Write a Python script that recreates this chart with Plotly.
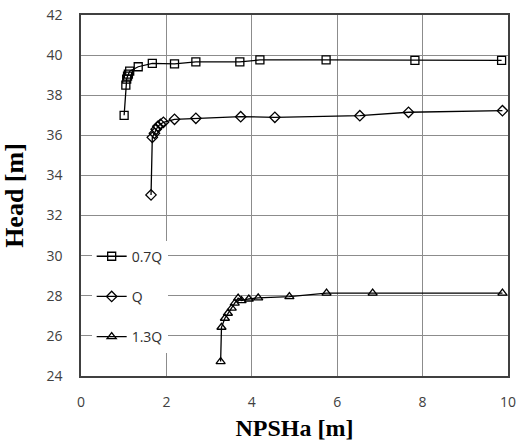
import plotly.graph_objects as go

x_07q = [1.01, 1.05, 1.07, 1.09, 1.11, 1.14, 1.34, 1.67, 2.19, 2.69, 3.72, 4.19, 5.74, 7.82, 9.85]
y_07q = [37.0, 38.5, 38.8, 38.95, 39.05, 39.2, 39.42, 39.59, 39.56, 39.66, 39.66, 39.76, 39.76, 39.74, 39.74]

x_q = [1.64, 1.67, 1.72, 1.76, 1.80, 1.86, 1.93, 2.19, 2.69, 3.74, 4.54, 6.53, 7.67, 9.87]
y_q = [33.03, 35.9, 36.1, 36.3, 36.45, 36.55, 36.65, 36.8, 36.85, 36.93, 36.9, 36.98, 37.15, 37.23]

x_13q = [3.27, 3.29, 3.37, 3.44, 3.53, 3.60, 3.68, 3.76, 3.93, 4.15, 4.88, 5.75, 6.83, 9.87]
y_13q = [24.72, 26.43, 26.88, 27.13, 27.38, 27.63, 27.88, 27.76, 27.84, 27.9, 27.96, 28.13, 28.13, 28.13]

names = ["0.7Q", "Q", "1.3Q"]
symbols = ["square-open", "diamond-open", "triangle-up-open"]

fig = go.Figure()
for i, (xs, ys) in enumerate([(x_07q, y_07q), (x_q, y_q), (x_13q, y_13q)]):
    fig.add_trace(go.Scatter(
        x=xs, y=ys, mode="lines+markers", name=names[i], legendgroup=names[i],
        line=dict(color="black", width=1.3),
        marker=dict(symbol=symbols[i], size=8, color="black", line=dict(width=1.3, color="black")),
    ))

tick_font = dict(family="Open Sans, Liberation Sans, sans-serif", size=14, color="#404040")

fig.update_layout(
    width=518, height=445,
    margin=dict(l=81, r=10, t=15, b=69),
    plot_bgcolor="white", paper_bgcolor="white",
    showlegend=True,
    legend=dict(
        x=0.025, y=0.375, xanchor="left", yanchor="top",
        bgcolor="white", borderwidth=0,
        font=dict(family="Open Sans, Liberation Sans, sans-serif", size=14, color="#303030"),
        traceorder="grouped", tracegroupgap=19,
    ),
    xaxis=dict(
        range=[0, 10], dtick=2, tick0=0, automargin=False,
        showgrid=True, gridcolor="#8c8c8c", gridwidth=1,
        showline=True, linecolor="#404040", linewidth=1.5, mirror=True,
        zeroline=False, ticks="", tickfont=tick_font,
        ticklabelstandoff=12, ticklabeloverflow="allow",
        title=dict(text="<b>NPSHa [m]</b>",
                   font=dict(family="Liberation Serif, Times New Roman, serif", size=24, color="black"),
                   standoff=10),
    ),
    yaxis=dict(
        range=[24, 42], dtick=2, tick0=24, automargin=False,
        showgrid=True, gridcolor="#8c8c8c", gridwidth=1,
        showline=True, linecolor="#404040", linewidth=1.5, mirror=True,
        zeroline=False, ticks="", tickfont=tick_font,
        ticklabelstandoff=14, ticklabeloverflow="allow",
        title=dict(text="<b>Head [m]</b>",
                   font=dict(family="Liberation Serif, Times New Roman, serif", size=26, color="black"),
                   standoff=19),
    ),
)

# remove the default page margin so the figure sits at the window's top-left corner
fig.write_html(
    "out.html",
    config={"displayModeBar": False},
    post_script="document.body.style.margin='0';document.body.style.overflow='hidden';",
)
